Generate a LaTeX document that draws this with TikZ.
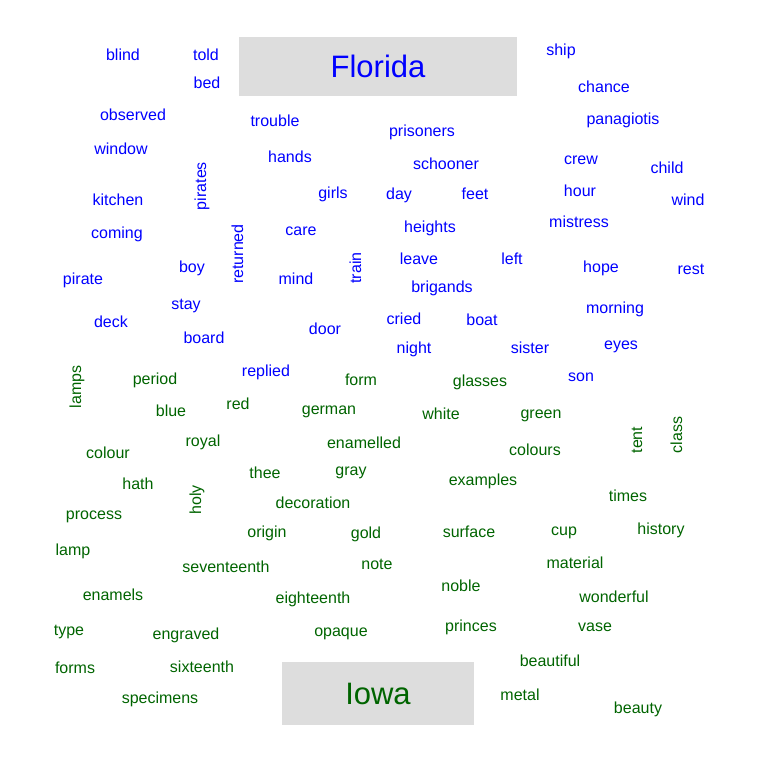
\documentclass[tikz,border=0pt]{standalone}
\usepackage{fontspec}
\setmainfont{Liberation Sans}
\definecolor{flblue}{RGB}{0,0,255}
\definecolor{iagreen}{RGB}{0,100,0}
\definecolor{boxgray}{RGB}{221,221,221}

\begin{document}
\begin{tikzpicture}[x=1pt,y=-1pt,
  fl/.style={anchor=base,inner sep=0pt,text=flblue,font=\fontsize{16.0}{19.2}\selectfont},
  ia/.style={anchor=base,inner sep=0pt,text=iagreen,font=\fontsize{16.0}{19.2}\selectfont},
  up/.style={rotate=90},
  titlebox/.style={fill=boxgray,draw=none,inner sep=0pt,font=\fontsize{31.0}{37.2}\selectfont}]
\path[use as bounding box] (0,0) rectangle (756.0,758.0);
\node[titlebox,minimum width=278,minimum height=59,text=flblue] (florida) at (378,66.5) {Florida};
\node[titlebox,minimum width=192,minimum height=63,text=iagreen] (iowa) at (378,693.5) {Iowa};
\node[fl] (blind) at (123,60) {blind};
\node[fl] (told) at (206,60) {told};
\node[fl] (bed) at (207,88) {bed};
\node[fl] (ship) at (561,55) {ship};
\node[fl] (chance) at (604,92) {chance};
\node[fl] (observed) at (133,120) {observed};
\node[fl] (trouble) at (275,126) {trouble};
\node[fl] (prisoners) at (422,136) {prisoners};
\node[fl] (panagiotis) at (623,124) {panagiotis};
\node[fl] (window) at (121,154) {window};
\node[fl] (hands) at (290,162) {hands};
\node[fl] (schooner) at (446,169) {schooner};
\node[fl] (crew) at (581,164) {crew};
\node[fl] (child) at (667,173) {child};
\node[fl,up] (pirates) at (206,186) {pirates};
\node[fl] (girls) at (333,198) {girls};
\node[fl] (day) at (399,199) {day};
\node[fl] (feet) at (475,199) {feet};
\node[fl] (hour) at (580,196) {hour};
\node[fl] (wind) at (688,205) {wind};
\node[fl] (kitchen) at (118,205) {kitchen};
\node[fl] (coming) at (117,238) {coming};
\node[fl,up] (returned) at (243,254) {returned};
\node[fl] (care) at (301,235) {care};
\node[fl] (heights) at (430,232) {heights};
\node[fl] (mistress) at (579,227) {mistress};
\node[fl,up] (train) at (361,268) {train};
\node[fl] (leave) at (419,264) {leave};
\node[fl] (left) at (512,264) {left};
\node[fl] (boy) at (192,272) {boy};
\node[fl] (pirate) at (83,284) {pirate};
\node[fl] (mind) at (296,284) {mind};
\node[fl] (hope) at (601,272) {hope};
\node[fl] (rest) at (691,274) {rest};
\node[fl] (brigands) at (442,292) {brigands};
\node[fl] (stay) at (186,309) {stay};
\node[fl] (morning) at (615,313) {morning};
\node[fl] (deck) at (111,327) {deck};
\node[fl] (door) at (325,334) {door};
\node[fl] (cried) at (404,324) {cried};
\node[fl] (boat) at (482,325) {boat};
\node[fl] (board) at (204,343) {board};
\node[fl] (night) at (414,353) {night};
\node[fl] (sister) at (530,353) {sister};
\node[fl] (eyes) at (621,349) {eyes};
\node[fl] (replied) at (266,376) {replied};
\node[fl] (son) at (581,381) {son};
\node[ia,up] (lamps) at (81,387) {lamps};
\node[ia] (period) at (155,384) {period};
\node[ia] (form) at (361,385) {form};
\node[ia] (glasses) at (480,386) {glasses};
\node[ia] (blue) at (171,416) {blue};
\node[ia] (red) at (238,409) {red};
\node[ia] (german) at (329,414) {german};
\node[ia] (white) at (441,419) {white};
\node[ia] (green) at (541,418) {green};
\node[ia,up] (tent) at (642,440) {tent};
\node[ia,up] (class) at (682,435) {class};
\node[ia] (royal) at (203,446) {royal};
\node[ia] (enamelled) at (364,448) {enamelled};
\node[ia] (colour) at (108,458) {colour};
\node[ia] (colours) at (535,455) {colours};
\node[ia] (thee) at (265,478) {thee};
\node[ia] (gray) at (351,475) {gray};
\node[ia] (hath) at (138,489) {hath};
\node[ia] (examples) at (483,485) {examples};
\node[ia,up] (holy) at (201,500) {holy};
\node[ia] (decoration) at (313,508) {decoration};
\node[ia] (times) at (628,501) {times};
\node[ia] (process) at (94,519) {process};
\node[ia] (origin) at (267,537) {origin};
\node[ia] (gold) at (366,538) {gold};
\node[ia] (surface) at (469,537) {surface};
\node[ia] (cup) at (564,535) {cup};
\node[ia] (history) at (661,534) {history};
\node[ia] (lamp) at (73,555) {lamp};
\node[ia] (seventeenth) at (226,572) {seventeenth};
\node[ia] (note) at (377,569) {note};
\node[ia] (material) at (575,568) {material};
\node[ia] (noble) at (461,591) {noble};
\node[ia] (enamels) at (113,600) {enamels};
\node[ia] (eighteenth) at (313,603) {eighteenth};
\node[ia] (wonderful) at (614,602) {wonderful};
\node[ia] (type) at (69,635) {type};
\node[ia] (engraved) at (186,639) {engraved};
\node[ia] (opaque) at (341,636) {opaque};
\node[ia] (princes) at (471,631) {princes};
\node[ia] (vase) at (595,631) {vase};
\node[ia] (beautiful) at (550,666) {beautiful};
\node[ia] (forms) at (75,673) {forms};
\node[ia] (sixteenth) at (202,672) {sixteenth};
\node[ia] (metal) at (520,700) {metal};
\node[ia] (specimens) at (160,703) {specimens};
\node[ia] (beauty) at (638,713) {beauty};
\end{tikzpicture}
\end{document}
